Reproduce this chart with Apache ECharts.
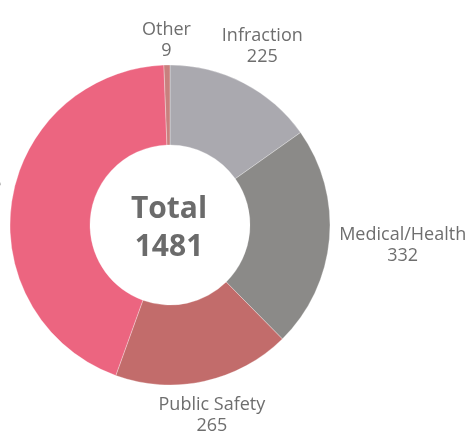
<!DOCTYPE html>
<html>
<head>
<meta charset="utf-8">
<script src="https://cdn.jsdelivr.net/npm/echarts@6/dist/echarts.min.js"></script>
<style>
  html, body { margin: 0; padding: 0; background: #fff; }
  #chart { width: 470px; height: 437px; }
</style>
</head>
<body>
<div id="chart"></div>
<script>
// slices, clockwise from 12 o'clock
var categories = ['Infraction', 'Medical/Health', 'Public Safety', 'Crime', 'Other'];
var values = [225, 332, 265, 650, 9];
var colors = ['#aaa9af', '#8b8a88', '#c26c6b', '#ec6580', '#c8807e'];

var cx = 170, cy = 225, outerR = 160, innerR = 80;

var total = 0;
values.forEach(function (v) { total += v; });

// mid angle of each slice, degrees clockwise from top
var midAngles = [];
var acc = 0;
values.forEach(function (v) {
    midAngles.push((acc + v / 2) / total * 360);
    acc += v;
});

var chart = echarts.init(document.getElementById('chart'));

var pieData = categories.map(function (name, i) {
    return { name: name, value: values[i], itemStyle: { color: colors[i] } };
});

chart.setOption({
    animation: false,
    graphic: [{
        type: 'text',
        x: cx - 1,
        y: cy + 3,
        z: 100,
        style: {
            text: 'Total\n' + total,
            align: 'center',
            verticalAlign: 'middle',
            fontFamily: 'Open Sans',
            fontSize: 30,
            fontWeight: 'bold',
            lineHeight: 38,
            fill: '#6b6b6b'
        }
    }],
    series: [{
        type: 'pie',
        center: [cx, cy],
        radius: [innerR, outerR],
        startAngle: 90,
        clockwise: true,
        avoidLabelOverlap: false,
        itemStyle: { borderColor: 'rgba(255,255,255,0.6)', borderWidth: 0.5 },
        label: {
            show: true,
            position: 'outside',
            formatter: '{b}\n{c}',
            fontFamily: 'Open Sans',
            fontSize: 18,
            lineHeight: 21,
            color: '#6e6e6e'
        },
        labelLine: { show: false },
        labelLayout: function (params) {
            var a = midAngles[params.dataIndex] * Math.PI / 180;
            var hw = params.labelRect.width / 2;
            var hh = params.labelRect.height / 2 - 6;
            var s = Math.sin(a), c = Math.cos(a);
            var r = outerR + 9 + hw * Math.abs(s) + hh * Math.abs(c);
            return {
                x: cx + r * s,
                y: cy - r * c,
                align: 'center',
                verticalAlign: 'middle'
            };
        },
        data: pieData
    }]
});
</script>
</body>
</html>
